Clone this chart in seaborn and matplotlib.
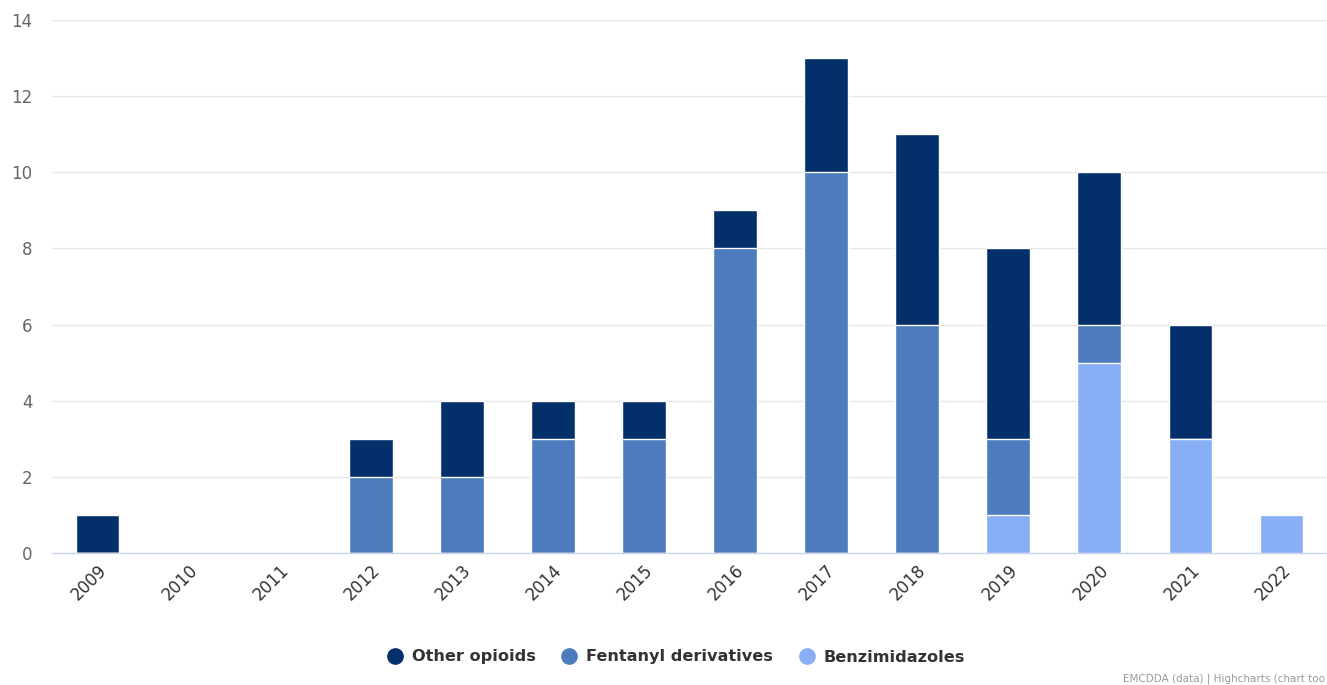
import matplotlib
matplotlib.use("Agg")
import matplotlib.pyplot as plt
from matplotlib.lines import Line2D
import seaborn as sns
import numpy as np
import pandas as pd

years = ["2009", "2010", "2011", "2012", "2013", "2014", "2015", "2016",
         "2017", "2018", "2019", "2020", "2021", "2022"]
other_opioids = [1, 0, 0, 1, 2, 1, 1, 1, 3, 5, 5, 4, 3, 0]
fentanyl_derivatives = [0, 0, 0, 2, 2, 3, 3, 8, 10, 6, 2, 1, 0, 0]
benzimidazoles = [0, 0, 0, 0, 0, 0, 0, 0, 0, 0, 1, 5, 3, 1]

series_names = ["Other opioids", "Fentanyl derivatives", "Benzimidazoles"]
colors = ["#03306b", "#4c7bbe", "#88aef5"]

sns.set_theme(style="white")
plt.rcParams['font.family'] = ['DejaVu Sans']

fig = plt.figure(figsize=(13.27, 6.85), dpi=100)
ax = fig.add_axes([52 / 1327, 1 - 553 / 685, 1 - 52 / 1327, (553 - 20) / 685])

b = np.array(benzimidazoles)
f = np.array(fentanyl_derivatives)
o = np.array(other_opioids)
layers = [(b + f + o, colors[0]), (b + f, colors[1]), (b, colors[2])]
for tot, col in layers:
    df = pd.DataFrame({"year": years, "value": tot})
    sns.barplot(data=df, x="year", y="value", color=col, saturation=1,
                width=0.48, edgecolor="white", linewidth=1, ax=ax, zorder=3)

ax.set_xlim(-0.5, len(years) - 0.5)
ax.set_ylim(0, 14)
ax.set_yticks(range(0, 15, 2))
ax.grid(axis="y", color="#e6e6e6", linewidth=1, zorder=0)
ax.set_axisbelow(True)
for s in ["top", "right", "left"]:
    ax.spines[s].set_visible(False)
ax.spines["bottom"].set_color("#ccd6eb")
ax.spines["bottom"].set_linewidth(1)
ax.set_xlabel("")
ax.set_ylabel("")
ax.tick_params(axis="y", length=0, labelsize=12, labelcolor="#666666", pad=14)
ax.tick_params(axis="x", length=0, labelsize=12, labelcolor="#333333", pad=6)
for lab in ax.get_xticklabels():
    lab.set_rotation(45)
    lab.set_ha("right")
    lab.set_rotation_mode("anchor")

handles = [Line2D([0], [0], marker="o", linestyle="", markersize=11,
                  markerfacecolor=c, markeredgecolor=c) for c in colors]
leg = fig.legend(handles, series_names, loc="center", bbox_to_anchor=(672 / 1327, 1 - 657 / 685),
                 ncol=3, frameon=False, handletextpad=0.05, columnspacing=1.1,
                 prop={"weight": "bold", "size": 11.6})
for t in leg.get_texts():
    t.set_color("#333333")

fig.text(1325 / 1327, 1 - 679 / 685, "EMCDDA (data) | Highcharts (chart too",
         fontsize=7.5, color="#999999", ha="right", va="center")

fig.savefig("out.png", dpi=100)
